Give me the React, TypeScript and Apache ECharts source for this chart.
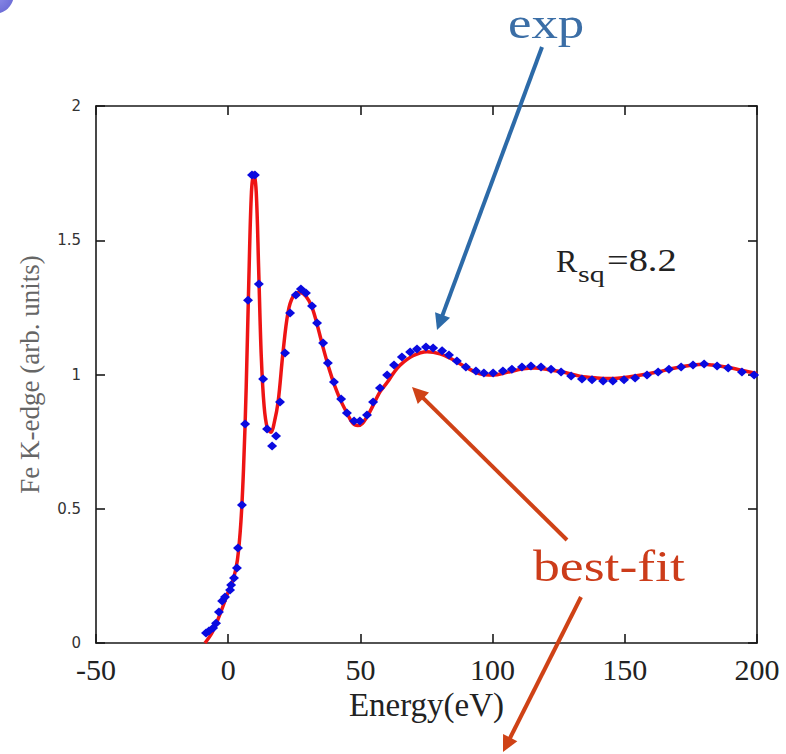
import React, { useEffect, useRef } from "react";
import * as echarts from "echarts";

// Measured Fe K-edge absorption (energy relative to edge, eV)
const EXP_ENERGY = [
  -8.4, -7.3, -5.7, -4.6, -3.5, -2.3, -1.2, 0.7, 1.1, 2.2, 3.3, 3.7, 5.2, 6.4, 7.5, 9.0, 10.1, 11.6, 13.2, 14.7,
  16.6, 18.1, 19.6, 21.5, 23.4, 25.6, 27.5, 29.4, 31.7, 33.6, 35.9, 37.7, 40.0, 42.7, 44.9, 47.6, 49.8, 52.5,
  54.8, 57.4, 60.1, 62.7, 65.7, 68.8, 71.4, 74.8, 77.5, 80.9, 83.5, 86.5, 89.9, 93.7, 96.7, 100.2, 103.9, 107.3,
  111.1, 114.5, 118.3, 122.1, 125.9, 129.7, 133.8, 137.6, 141.8, 145.5, 149.7, 153.9, 158.4, 162.6, 166.7,
  171.3, 175.8, 180.0, 184.9, 189.1, 194.3, 198.9,
];
const EXP_MU = [
  0.037, 0.045, 0.056, 0.074, 0.115, 0.156, 0.171, 0.197, 0.216, 0.242, 0.279, 0.354, 0.514, 0.816, 1.277, 1.743,
  1.743, 1.337, 0.983, 0.797, 0.734, 0.771, 0.898, 1.08, 1.229, 1.296, 1.318, 1.304, 1.255, 1.192, 1.117, 1.043,
  0.972, 0.909, 0.857, 0.827, 0.827, 0.849, 0.898, 0.95, 0.998, 1.035, 1.065, 1.084, 1.095, 1.102, 1.099, 1.088,
  1.073, 1.05, 1.028, 1.013, 1.006, 1.006, 1.013, 1.02, 1.028, 1.032, 1.028, 1.02, 1.009, 0.994, 0.983, 0.98,
  0.976, 0.976, 0.98, 0.987, 0.998, 1.009, 1.02, 1.028, 1.035, 1.039, 1.032, 1.024, 1.009, 0.998,
];

// Best-fit theoretical spectrum
const FIT_ENERGY = [
  -8.8, -6, -3, 0, 2, 3.5, 4.8, 5.8, 6.8, 7.8, 8.8, 9.7, 10.6, 11.5, 12.5, 13.6, 14.8, 16.2, 17.4, 18.9, 20.7,
  22.6, 24.5, 27.0, 29.5, 31.7, 33.8, 35.9, 38.2, 40.4, 42.7, 44.9, 47, 49, 50.8, 53.6, 57.4, 60.1, 62.5, 65,
  69.9, 75.2, 80.1, 85, 90.3, 95.2, 100.2, 105.4, 111.5, 116, 121, 126.6, 133, 139.5, 144, 148.2, 155, 162.2,
  169, 175.8, 180, 183.4, 188.5, 193.6, 198.9, 200,
];
const FIT_MU = [
  0.0, 0.04, 0.11, 0.19, 0.24, 0.31, 0.45, 0.65, 0.95, 1.35, 1.68, 1.75, 1.68, 1.4, 1.07, 0.88, 0.8, 0.785, 0.82,
  0.9, 1.08, 1.23, 1.29, 1.305, 1.29, 1.25, 1.18, 1.1, 1.02, 0.955, 0.9, 0.857, 0.82, 0.81, 0.818, 0.862, 0.935,
  0.97, 1.005, 1.035, 1.07, 1.085, 1.077, 1.055, 1.025, 1.003, 0.998, 1.008, 1.021, 1.024, 1.018, 1.009, 0.994,
  0.987, 0.985, 0.987, 0.996, 1.009, 1.024, 1.035, 1.038, 1.035, 1.028, 1.017, 1.006, 1.003,
];

const X_MIN = -50;
const X_MAX = 200;
const X_STEP = 50;
const Y_MIN = 0;
const Y_MAX = 2;
const Y_STEP = 0.5;

const SERIF = "'Liberation Serif', 'Times New Roman', serif";
const SANS = "'DejaVu Sans', Arial, sans-serif";
const AXIS_COLOR = "#1a1a1a";
const BLUE_ARROW = "#2c6aa8";
const RED_ARROW = "#cf4216";

// Straight arrow: shaft plus a triangular head ending at (x2, y2)
function arrow(x1: number, y1: number, x2: number, y2: number, color: string, width: number, headLen: number, headHalf: number) {
  const dx = x2 - x1;
  const dy = y2 - y1;
  const len = Math.sqrt(dx * dx + dy * dy);
  const ux = dx / len;
  const uy = dy / len;
  const bx = x2 - ux * headLen;
  const by = y2 - uy * headLen;
  const px = -uy;
  const py = ux;
  return [
    {
      type: "line",
      shape: { x1, y1, x2: bx + ux * 2, y2: by + uy * 2 },
      style: { stroke: color, lineWidth: width, lineCap: "butt" },
      z: 20,
    },
    {
      type: "polygon",
      shape: {
        points: [
          [x2, y2],
          [bx + px * headHalf, by + py * headHalf],
          [bx - px * headHalf, by - py * headHalf],
        ],
      },
      style: { fill: color },
      z: 20,
    },
  ];
}

export default function App() {
  const ref = useRef<HTMLDivElement>(null);

  useEffect(() => {
    if (!ref.current) return;
    const chart = echarts.init(ref.current, null, { renderer: "svg" });

    const expData = EXP_ENERGY.map((e, i) => [e, EXP_MU[i]]);
    const fitData = FIT_ENERGY.map((e, i) => [e, FIT_MU[i]]);

    const frameAxisLine = { show: true, onZero: false, lineStyle: { color: AXIS_COLOR, width: 1.6 } };
    const frameTick = { show: true, inside: true, length: 9, lineStyle: { color: AXIS_COLOR, width: 1.6 } };

    chart.setOption({
      animation: false,
      backgroundColor: "#ffffff",
      grid: { left: 96, right: 29, top: 106, bottom: 111, containLabel: false },
      xAxis: [
        {
          type: "value",
          min: X_MIN,
          max: X_MAX,
          interval: X_STEP,
          position: "bottom",
          name: "Energy(eV)",
          nameLocation: "middle",
          nameGap: 40,
          nameTextStyle: { fontFamily: SERIF, fontSize: 33, color: "#222" },
          axisLine: frameAxisLine,
          axisTick: frameTick,
          axisLabel: { fontFamily: SERIF, fontSize: 30, color: "#222", margin: 11 },
          splitLine: { show: false },
        },
        {
          type: "value",
          min: X_MIN,
          max: X_MAX,
          interval: X_STEP,
          position: "top",
          axisLine: frameAxisLine,
          axisTick: frameTick,
          axisLabel: { show: false },
          splitLine: { show: false },
        },
      ],
      yAxis: [
        {
          type: "value",
          min: Y_MIN,
          max: Y_MAX,
          interval: Y_STEP,
          position: "left",
          name: "Fe K-edge (arb. units)",
          nameLocation: "middle",
          nameGap: 53,
          nameTextStyle: { fontFamily: SERIF, fontSize: 27, color: "#666" },
          axisLine: frameAxisLine,
          axisTick: frameTick,
          axisLabel: { fontFamily: SANS, fontSize: 15, color: "#333", margin: 15, formatter: (v: number) => String(v) },
          splitLine: { show: false },
        },
        {
          type: "value",
          min: Y_MIN,
          max: Y_MAX,
          interval: Y_STEP,
          position: "right",
          axisLine: frameAxisLine,
          axisTick: frameTick,
          axisLabel: { show: false },
          splitLine: { show: false },
        },
      ],
      series: [
        {
          name: "best-fit",
          type: "line",
          xAxisIndex: 0,
          yAxisIndex: 0,
          data: fitData,
          smooth: 0.35,
          showSymbol: false,
          lineStyle: { color: "#ee1414", width: 3.5 },
          z: 3,
        },
        {
          name: "exp",
          type: "scatter",
          xAxisIndex: 0,
          yAxisIndex: 0,
          data: expData,
          symbol: "diamond",
          symbolSize: [10, 9],
          itemStyle: { color: "#0a0ae0", opacity: 1 },
          z: 4,
        },
      ],
      graphic: [
        {
          type: "circle",
          shape: { cx: -6, cy: -6, r: 20 },
          style: {
            fill: new echarts.graphic.RadialGradient(0.6, 0.6, 0.7, [
              { offset: 0, color: "#8a8ae8" },
              { offset: 1, color: "#5656c8" },
            ]),
          },
          z: 10,
        },
        {
          type: "text",
          x: 508,
          y: 2,
          scaleX: 1.2,
          style: { text: "exp", fontFamily: SERIF, fontSize: 44, fill: "#3b6ea6" },
          z: 20,
        },
        {
          type: "text",
          x: 533,
          y: 544,
          scaleX: 1.22,
          style: { text: "best-fit", fontFamily: SERIF, fontSize: 44, fill: "#cc3c1a" },
          z: 20,
        },
        {
          type: "text",
          x: 556,
          y: 245,
          style: { text: "R", fontFamily: SERIF, fontSize: 32, fill: "#222" },
          z: 20,
        },
        {
          type: "text",
          x: 578,
          y: 262,
          scaleX: 1.25,
          style: { text: "sq", fontFamily: SERIF, fontSize: 24, fill: "#222" },
          z: 20,
        },
        {
          type: "text",
          x: 607,
          y: 245,
          scaleX: 1.2,
          style: { text: "=8.2", fontFamily: SERIF, fontSize: 32, fill: "#222" },
          z: 20,
        },
        ...arrow(542, 47, 437, 330, BLUE_ARROW, 4, 16, 8),
        ...arrow(567, 540, 412, 387, RED_ARROW, 4, 16, 8),
        ...arrow(581, 597, 503, 752, RED_ARROW, 4, 16, 8),
      ],
    });

    return () => chart.dispose();
  }, []);

  return (
    <div
      ref={ref}
      style={{ position: "fixed", left: 0, top: 0, width: 786, height: 754, background: "#fff" }}
    />
  );
}
